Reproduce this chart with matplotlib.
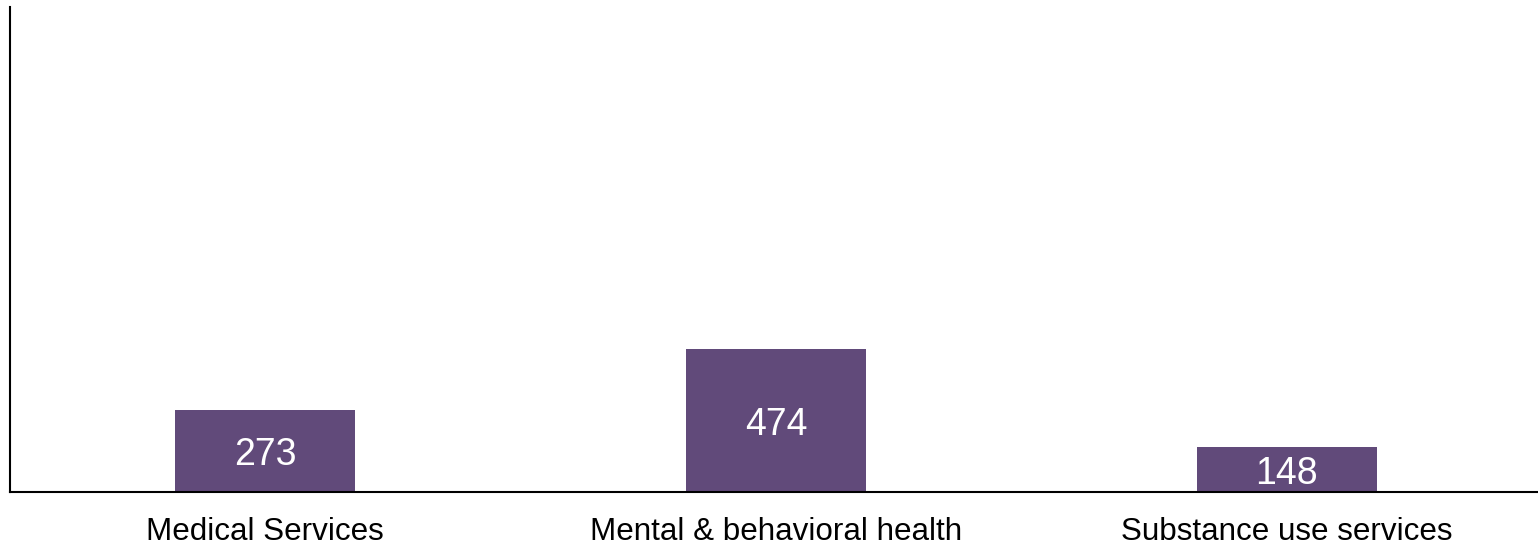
import matplotlib.pyplot as plt

categories = ['Medical Services', 'Mental & behavioral health', 'Substance use services']
counts = [273, 474, 148]

plt.rcParams['font.family'] = ['Liberation Sans', 'DejaVu Sans']

fig = plt.figure(figsize=(15.38, 5.52), dpi=100)
ax = fig.add_axes([10 / 1538, 60 / 552, 1532 / 1538, 485 / 552])

x = range(len(categories))
bars = ax.bar(x, counts, width=0.353, color='#614A7A')

# value labels inside the bars
for b, v in zip(bars, counts):
    ax.text(b.get_x() + b.get_width() / 2, v / 2, str(v),
            ha='center', va='center_baseline', color='white', fontsize=27)

ax.set_xlim(-0.5, 2.5)
ax.set_ylim(0, 1612)
ax.set_xticks(list(x))
ax.set_xticklabels(categories, fontsize=22.6)
ax.tick_params(axis='x', length=0, pad=18)
ax.set_yticks([])

for s in ['top', 'right']:
    ax.spines[s].set_visible(False)
ax.spines['left'].set_linewidth(1.5)
ax.spines['bottom'].set_linewidth(1.5)

fig.savefig('out.png', dpi=100)
